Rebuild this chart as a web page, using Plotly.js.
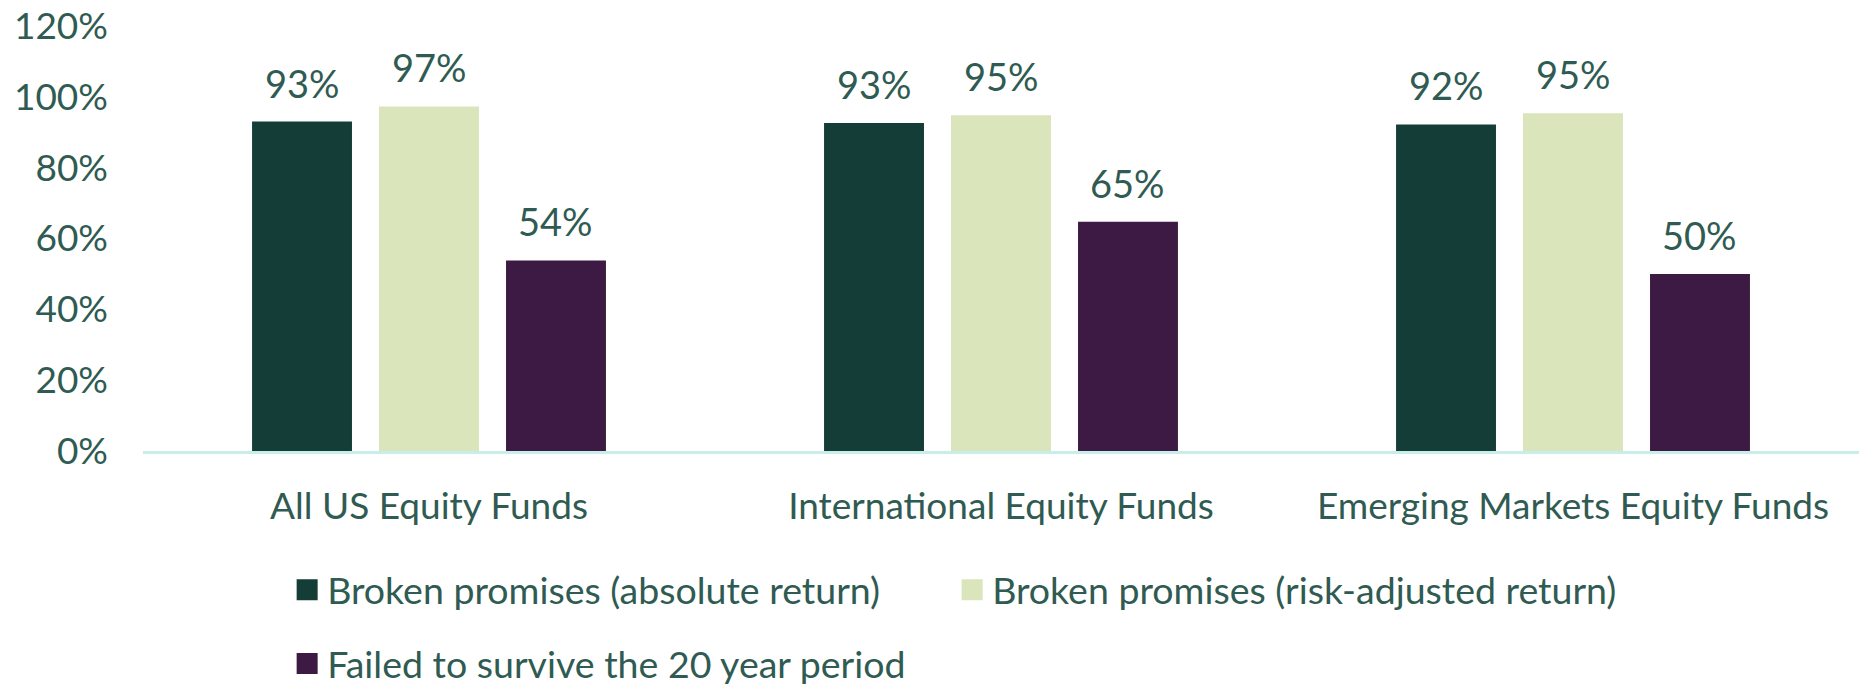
<!DOCTYPE html>
<html>
<head>
<meta charset="utf-8">
<script src="https://cdn.plot.ly/plotly-3.0.1.min.js"></script>
<style>html,body{margin:0;padding:0;background:#fff;}#chart{width:1863px;height:687px;}</style>
</head>
<body>
<div id="chart"></div>
<script>
const categories = ["All US Equity Funds", "International Equity Funds", "Emerging Markets Equity Funds"];
const seriesNames = ["Broken promises (absolute return)", "Broken promises (risk-adjusted return)", "Failed to survive the 20 year period"];
const absoluteReturn = [0.930, 0.926, 0.922];
const riskAdjusted = [0.973, 0.948, 0.954];
const failedToSurvive = [0.538, 0.647, 0.500];
const yTickVals = [0, 0.2, 0.4, 0.6, 0.8, 1.0, 1.2];

const seriesValues = [absoluteReturn, riskAdjusted, failedToSurvive];
const colors = ["#143d38", "#dae5bb", "#3d1a44"];
const textColor = "#2f5b52";
const FONT = "Lato, 'Open Sans', sans-serif";
const bargap = 0.334, bargroupgap = 0.213;

const traces = seriesValues.map((vals, i) => ({
  type: "bar",
  name: seriesNames[i],
  x: categories,
  y: vals,
  marker: {color: colors[i], line: {width: 0}},
  hoverinfo: "skip",
  showlegend: false
}));

// legend proxies (no data drawn) so the legend squares can be larger
seriesNames.forEach((name, i) => {
  traces.push({
    type: "scatter", mode: "markers",
    name: name,
    x: [categories[0]], y: [null],
    marker: {symbol: "square", size: 16, color: colors[i], line: {width: 5, color: colors[i]}},
    hoverinfo: "skip",
    showlegend: true,
    legend: i < 2 ? "legend" : "legend2"
  });
});

const annotations = [];
const slot = (1 - bargap) / seriesValues.length;
seriesValues.forEach((vals, i) => {
  vals.forEach((v, c) => {
    annotations.push({
      xref: "x", yref: "y",
      x: c + (i - (seriesValues.length - 1) / 2) * slot,
      y: v,
      text: Math.round(v * 100) + "%",
      showarrow: false,
      yanchor: "middle",
      yshift: 39,
      font: {family: FONT, size: 38, color: textColor}
    });
  });
});

const layout = {
  width: 1863, height: 687,
  margin: {l: 143, r: 4, t: 26, b: 236, autoexpand: false},
  paper_bgcolor: "#fff", plot_bgcolor: "#fff",
  barmode: "group",
  bargap: bargap, bargroupgap: bargroupgap,
  font: {family: FONT, size: 37, color: textColor},
  xaxis: {
    type: "category",
    showline: true, linecolor: "#c9eee9", linewidth: 3,
    ticks: "", showgrid: false, zeroline: false,
    ticklabelstandoff: 21,
    tickfont: {family: FONT, size: 37, color: textColor}
  },
  yaxis: {
    range: [0, 1.2], tickvals: yTickVals, tickformat: ".0%",
    showgrid: false, zeroline: false, showline: false, ticks: "",
    ticklabelstandoff: 34,
    tickfont: {family: FONT, size: 37, color: textColor}
  },
  legend: {
    orientation: "h", x: 0.084, xanchor: "left", y: -0.327, yanchor: "middle",
    entrywidth: 620, entrywidthmode: "pixels",
    font: {family: FONT, size: 37.5, color: textColor},
    bgcolor: "rgba(0,0,0,0)"
  },
  legend2: {
    orientation: "h", x: 0.084, xanchor: "left", y: -0.50, yanchor: "middle",
    font: {family: FONT, size: 37.5, color: textColor},
    bgcolor: "rgba(0,0,0,0)"
  },
  annotations: annotations,
  showlegend: true
};

Plotly.newPlot("chart", traces, layout, {displayModeBar: false, staticPlot: true});
</script>
</body>
</html>
